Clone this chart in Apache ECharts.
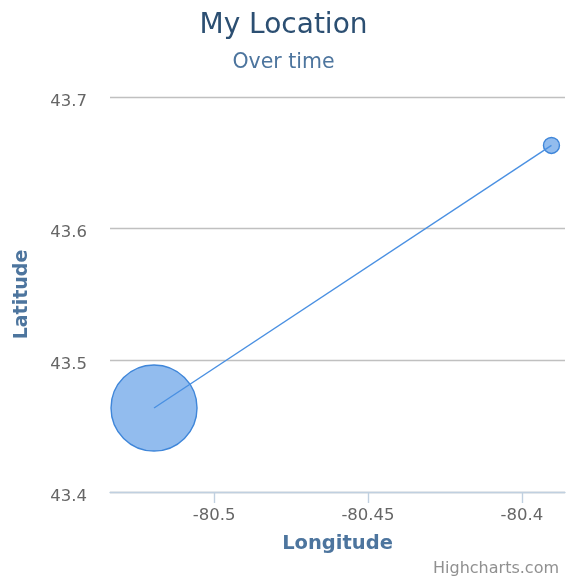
<!DOCTYPE html>
<html>
<head>
<meta charset="utf-8">
<script src="https://cdn.jsdelivr.net/npm/echarts@6/dist/echarts.min.js"></script>
<style>
  html, body { margin: 0; padding: 0; background: #fff; }
  #chart { width: 567px; height: 583px; }
</style>
</head>
<body>
<div id="chart"></div>
<script>
// Recorded positions over time
const longitudes = [-80.5195, -80.3904];
const latitudes = [43.4638, 43.6632];
const weights = [10, 1];          // bubble weight for each position

const xTicks = [-80.5, -80.45, -80.4];
const yTicks = [43.4, 43.5, 43.6, 43.7];

const FONT = 'DejaVu Sans';
const MIN_SIZE = 16, MAX_SIZE = 86;
const wMin = Math.min(...weights), wMax = Math.max(...weights);
function bubbleSize(w) {
  // size by area, like a bubble chart
  const t = wMax === wMin ? 1 : (Math.sqrt(w) - Math.sqrt(wMin)) / (Math.sqrt(wMax) - Math.sqrt(wMin));
  return MIN_SIZE + (MAX_SIZE - MIN_SIZE) * t;
}

const points = longitudes.map((lon, i) => [lon, latitudes[i], weights[i]]);

const chart = echarts.init(document.getElementById('chart'), null, { renderer: 'canvas' });
chart.setOption({
  animation: false,
  textStyle: { fontFamily: FONT },
  title: [
    { text: 'My Location', left: 'center', top: 7,
      textStyle: { color: '#2c4f72', fontSize: 28, fontWeight: 'normal', fontFamily: FONT } },
    { text: 'Over time', left: 'center', top: 47,
      textStyle: { color: '#4d759e', fontSize: 20.5, fontWeight: 'normal', fontFamily: FONT } },
    { text: 'Highcharts.com', right: 3, bottom: 1,
      textStyle: { color: '#909090', fontSize: 16, fontWeight: 'normal', fontFamily: FONT } }
  ],
  grid: { left: 110, right: 2, top: 97, bottom: 91, containLabel: false, outerBoundsMode: 'none' },
  xAxis: {
    type: 'value',
    min: -80.5338, max: -80.386,
    name: 'Longitude', nameLocation: 'middle', nameGap: 42,
    nameTextStyle: { color: '#4d759e', fontWeight: 'bold', fontSize: 19.5, fontFamily: FONT },
    axisLine: { show: true, lineStyle: { color: '#c0d0e0', width: 1.4 } },
    axisTick: { show: true, length: 11, customValues: xTicks, lineStyle: { color: '#c0d0e0', width: 1.4 } },
    axisLabel: { customValues: xTicks, color: '#666', fontSize: 16.5, margin: 15, formatter: v => String(v) },
    splitLine: { show: false }
  },
  yAxis: {
    type: 'value',
    min: 43.4, max: 43.7, interval: 0.1,
    name: 'Latitude', nameLocation: 'middle', nameGap: 78, nameRotate: 90,
    nameTextStyle: { color: '#4d759e', fontWeight: 'bold', fontSize: 19, fontFamily: FONT },
    axisLine: { show: false },
    axisTick: { show: false },
    axisLabel: { color: '#666', fontSize: 16.5, margin: 23, verticalAlign: 'top', lineHeight: 9,
      formatter: v => v.toFixed(1) },
    splitLine: { show: true, lineStyle: { color: '#c0c0c0', width: 1.4 } }
  },
  series: [
    {
      type: 'scatter',
      data: points,
      symbolSize: d => bubbleSize(d[2]),
      itemStyle: { color: 'rgba(74,144,226,0.6)', borderColor: '#3f86d9', borderWidth: 1.4, opacity: 1 },
      z: 2
    },
    {
      type: 'line',
      data: points.map(p => [p[0], p[1]]),
      showSymbol: false,
      lineStyle: { color: '#4a90e2', width: 1.4 },
      z: 3
    }
  ]
});
</script>
</body>
</html>
